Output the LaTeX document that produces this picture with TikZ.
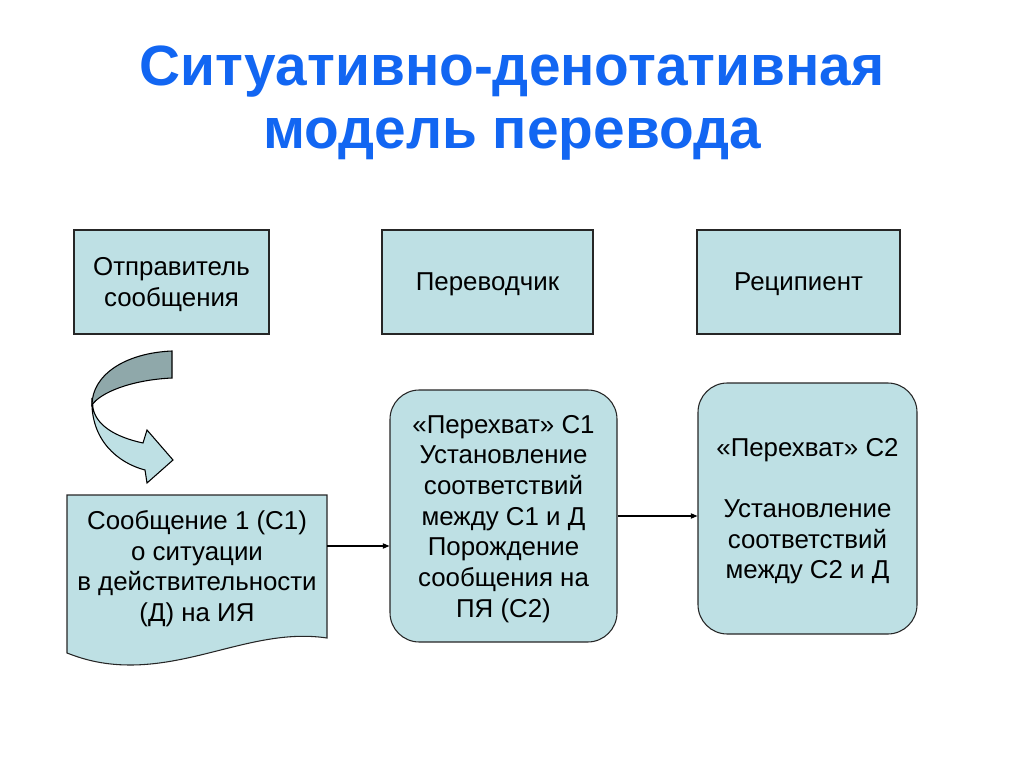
\documentclass[tikz,border=0pt]{standalone}
\usepackage{fontspec}
\setmainfont{Liberation Sans}
\usetikzlibrary{arrows.meta}
\definecolor{boxfill}{RGB}{190,224,228}
\definecolor{ribbon}{RGB}{143,168,170}
\definecolor{titleblue}{RGB}{18,102,242}

\begin{document}
\begin{tikzpicture}[x=0.75pt,y=-0.75pt,
    box/.style={draw=black!85, fill=boxfill, line width=0.8pt, align=center, text depth=0pt, font=\fontsize{19.4}{23}\selectfont},
    rbox/.style={box, rounded corners=22pt},
    msgtext/.style={align=center, text depth=0pt, font=\fontsize{19.4}{23}\selectfont},
    heading/.style={anchor=base, text=titleblue, font=\fontsize{42.6}{50}\selectfont\bfseries},
    arr/.style={-{Triangle[length=5pt,width=4pt]}, line width=0.8pt}]
  \useasboundingbox (0,0) rectangle (1024,767);

  % title
  \node[heading] (title1) at (512,85) {Ситуативно-денотативная};
  \node[heading] (title2) at (512,148) {модель перевода};

  % upper row
  \node[box, minimum width=146.25pt, minimum height=78pt] (sender) at (171.5,282) {Отправитель\\сообщения};
  \node[box, minimum width=158.25pt, minimum height=78pt] (translator) at (487.5,282) {Переводчик};
  \node[box, minimum width=152.25pt, minimum height=78pt] (recipient) at (798.5,282) {Реципиент};

  % curved arrow
  \draw[line width=0.8pt, fill=boxfill] (92,398) .. controls (90,440) and (118,463) .. (145,470)
    -- (147,483) -- (173,460) -- (147,430) -- (143,443) .. controls (115,437) and (96,425) .. (93,408) -- cycle;
  \draw[line width=0.8pt, fill=ribbon] (172,351) .. controls (125,353) and (92,375) .. (92,405)
    .. controls (100,393) and (130,380) .. (172,378) -- cycle;

  % message (document shape)
  \draw[line width=0.8pt, draw=black!85, fill=boxfill] (67,495) -- (327,495) -- (327,638)
    .. controls (260,628) and (200,665) .. (130,665) .. controls (100,665) and (80,658) .. (67,653) -- cycle;
  \node[msgtext, minimum width=195pt] (msg) at (197,566) {Сообщение 1 (С1)\\о ситуации\\в действительности\\(Д) на ИЯ};

  % lower row
  \node[rbox, minimum width=170.25pt, minimum height=189pt] (pick1) at (503.5,516)
    {«Перехват» С1\\Установление\\соответствий\\ между С1 и Д\\Порождение\\сообщения на\\ПЯ (С2)};
  \node[rbox, minimum width=164.25pt, minimum height=188.25pt] (pick2) at (807.5,508.5)
    {«Перехват» С2\\ \mbox{}\\Установление\\соответствий\\ между С2 и Д};

  \coordinate (m1) at ([yshift=15pt]msg.east);
  \draw[arr] (m1) -- (m1 -| pick1.west);
  \draw[arr] (pick1.east) -- (pick1.east -| pick2.west);
\end{tikzpicture}
\end{document}
